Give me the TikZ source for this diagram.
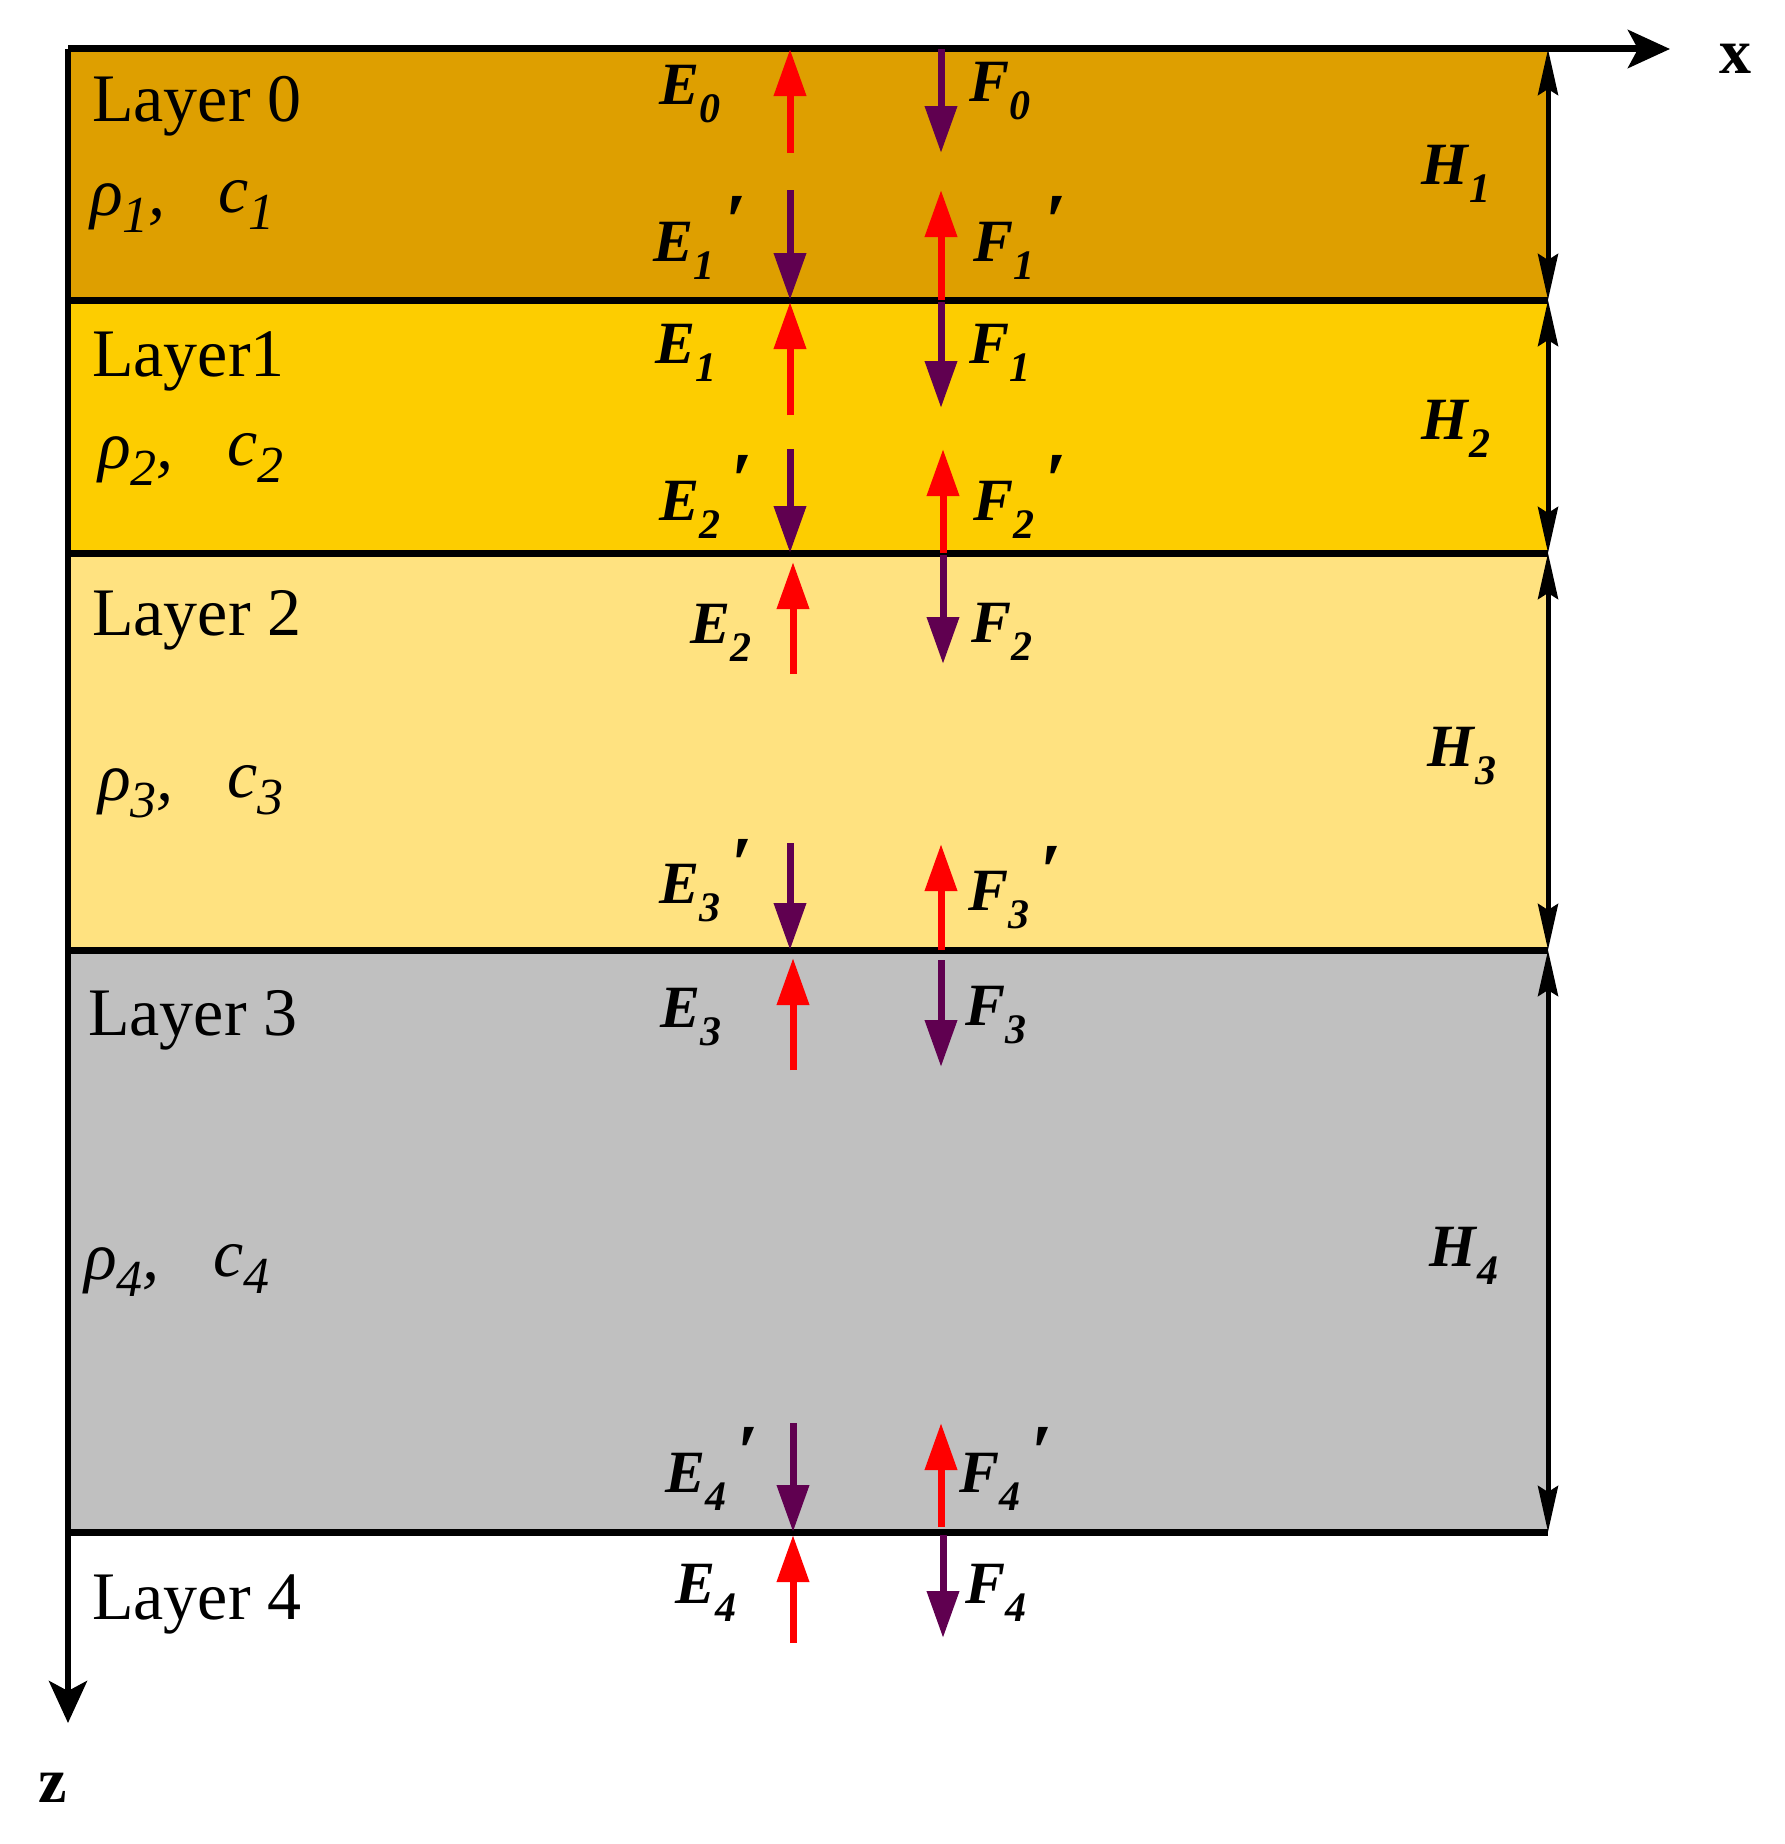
\documentclass[tikz,border=0pt]{standalone}
\usepackage{fontspec}
\setmainfont{Liberation Serif}
\usetikzlibrary{arrows.meta}
\definecolor{layzero}{RGB}{222,159,0}
\definecolor{layone}{RGB}{253,205,0}
\definecolor{laytwo}{RGB}{255,226,128}
\definecolor{laythree}{RGB}{192,192,192}
\definecolor{wred}{RGB}{255,0,0}
\definecolor{wpur}{RGB}{96,0,80}
\newcommand{\wvar}[2]{\textbf{\textit{#1}}\raisebox{-0.3em}{\fontsize{42}{42}\selectfont\textbf{\textit{#2}}}}
\newcommand{\wprm}{\hspace{0.18em}\raisebox{0.22em}{\fontsize{78}{78}\selectfont\textbf{\textit{′}}}}
\newcommand{\wgr}[2]{\textit{#1}\raisebox{-0.25em}{\fontsize{52}{52}\selectfont\textit{#2}}}
\begin{document}
\begin{tikzpicture}[x=1pt,y=-1pt,
  laylab/.style={anchor=base west,inner sep=0pt,font=\fontsize{68}{72}\selectfont},
  grlab/.style={anchor=base west,inner sep=0pt,font=\fontsize{68}{72}\selectfont},
  wlab/.style={inner sep=0pt,font=\fontsize{60}{64}\selectfont},
  redarr/.style={wred,line width=7pt,-{Triangle[length=47pt,width=31pt]}},
  purarr/.style={wpur,line width=7pt,-{Triangle[length=47pt,width=31pt]}},
  harr/.style={black,line width=5pt,{Stealth[length=46pt,width=20pt,inset=6pt]}-{Stealth[length=46pt,width=20pt,inset=6pt]}},
  axarr/.style={black,line width=6pt,-{Stealth[length=42pt,width=38pt,inset=10pt]}},
  bline/.style={black,line width=7pt}]
\useasboundingbox (0,0) rectangle (1785,1844);
% layers
\fill[layzero] (68,49) rectangle (1548,300);
\fill[layone] (68,300) rectangle (1548,553);
\fill[laytwo] (68,553) rectangle (1548,950);
\fill[laythree] (68,950) rectangle (1548,1532);
% coordinates
\coordinate (O) at (68,49);
\coordinate (Xend) at (1670,49);
\coordinate (Zend) at (68,1723);
\coordinate (R0) at (1548,49);
\coordinate (R1) at (1548,300);
\coordinate (R2) at (1548,553);
\coordinate (R3) at (1548,950);
\coordinate (R4) at (1548,1532);
\coordinate (L1) at (68,300);
\coordinate (L2) at (68,553);
\coordinate (L3) at (68,950);
\coordinate (L4) at (68,1532);
% boundaries
\draw[bline] (L1) -- (R1);
\draw[bline] (L2) -- (R2);
\draw[bline] (L3) -- (R3);
\draw[bline] (L4) -- (R4);
% axes
\draw[axarr,line width=7pt] (O) -- (Xend);
\draw[axarr] (O) -- (Zend);
\node[inner sep=0pt,font=\fontsize{64}{64}\selectfont\bfseries] (xl) at (1735,59) {x};
\node[inner sep=0pt,font=\fontsize{64}{64}\selectfont\bfseries] (zl) at (53,1788) {z};
% thickness arrows
\draw[harr] (R0) -- (R1);
\draw[harr] (R1) -- (R2);
\draw[harr] (R2) -- (R3);
\draw[harr] (R3) -- (R4);
\node[wlab] (h1) at (1456,174) {\wvar{H}{1}};
\node[wlab] (h2) at (1456,429) {\wvar{H}{2}};
\node[wlab] (h3) at (1462,756) {\wvar{H}{3}};
\node[wlab] (h4) at (1464,1256) {\wvar{H}{4}};
% layer labels
\node[laylab] (t0) at (92,121) {Layer 0};
\node[laylab] (t1) at (92,376) {Layer1};
\node[laylab] (t2) at (92,635) {Layer 2};
\node[laylab] (t3) at (88,1035) {Layer 3};
\node[laylab] (t4) at (92,1619) {Layer 4};
\node[grlab] (p1) at (90,215) {\wgr{ρ}{1}\textit{,}};
\node[grlab] (c1) at (218,212) {\wgr{c}{1}};
\node[grlab] (p2) at (98,468) {\wgr{ρ}{2}\textit{,}};
\node[grlab] (c2) at (227,465) {\wgr{c}{2}};
\node[grlab] (p3) at (98,800) {\wgr{ρ}{3}\textit{,}};
\node[grlab] (c3) at (227,797) {\wgr{c}{3}};
\node[grlab] (p4) at (84,1279) {\wgr{ρ}{4}\textit{,}};
\node[grlab] (c4) at (213,1276) {\wgr{c}{4}};
% wave arrow coordinates
\coordinate (e0s) at (790,153); \coordinate (e0t) at (790,49);
\coordinate (f0s) at (941,49); \coordinate (f0t) at (941,153);
\coordinate (e1ps) at (790,190); \coordinate (e1pt) at (790,300);
\coordinate (f1ps) at (941,300); \coordinate (f1pt) at (941,190);
\coordinate (e1s) at (790,415); \coordinate (e1t) at (790,302);
\coordinate (f1s) at (941,302); \coordinate (f1t) at (941,408);
\coordinate (e2ps) at (790,449); \coordinate (e2pt) at (790,553);
\coordinate (f2ps) at (943,553); \coordinate (f2pt) at (943,449);
\coordinate (e2s) at (793,674); \coordinate (e2t) at (793,562);
\coordinate (f2s) at (943,555); \coordinate (f2t) at (943,664);
\coordinate (e3ps) at (790,843); \coordinate (e3pt) at (790,950);
\coordinate (f3ps) at (941,950); \coordinate (f3pt) at (941,844);
\coordinate (e3s) at (793,1070); \coordinate (e3t) at (793,958);
\coordinate (f3s) at (941,960); \coordinate (f3t) at (941,1067);
\coordinate (e4ps) at (793,1423); \coordinate (e4pt) at (793,1532);
\coordinate (f4ps) at (941,1527); \coordinate (f4pt) at (941,1423);
\coordinate (e4s) at (793,1643); \coordinate (e4t) at (793,1535);
\coordinate (f4s) at (943,1535); \coordinate (f4t) at (943,1638);
\draw[redarr] (e0s) -- (e0t);
\draw[purarr] (f0s) -- (f0t);
\draw[purarr] (e1ps) -- (e1pt);
\draw[redarr] (f1ps) -- (f1pt);
\draw[redarr] (e1s) -- (e1t);
\draw[purarr] (f1s) -- (f1t);
\draw[purarr] (e2ps) -- (e2pt);
\draw[redarr] (f2ps) -- (f2pt);
\draw[redarr] (e2s) -- (e2t);
\draw[purarr] (f2s) -- (f2t);
\draw[purarr] (e3ps) -- (e3pt);
\draw[redarr] (f3ps) -- (f3pt);
\draw[redarr] (e3s) -- (e3t);
\draw[purarr] (f3s) -- (f3t);
\draw[purarr] (e4ps) -- (e4pt);
\draw[redarr] (f4ps) -- (f4pt);
\draw[redarr] (e4s) -- (e4t);
\draw[purarr] (f4s) -- (f4t);
% wave labels
\node[wlab] (le0) at (690,94) {\wvar{E}{0}};
\node[wlab] (le1p) at (700,238) {\wvar{E}{1}\wprm};
\node[wlab] (le1) at (686,353) {\wvar{E}{1}};
\node[wlab] (le2p) at (706,497) {\wvar{E}{2}\wprm};
\node[wlab] (le2) at (721,633) {\wvar{E}{2}};
\node[wlab] (le3p) at (706,881) {\wvar{E}{3}\wprm};
\node[wlab] (le3) at (691,1017) {\wvar{E}{3}};
\node[wlab] (le4p) at (712,1469) {\wvar{E}{4}\wprm};
\node[wlab] (le4) at (706,1593) {\wvar{E}{4}};
\node[wlab] (lf0) at (1000,91) {\wvar{F}{0}};
\node[wlab] (lf1p) at (1020,238) {\wvar{F}{1}\wprm};
\node[wlab] (lf1) at (1000,353) {\wvar{F}{1}};
\node[wlab] (lf2p) at (1020,497) {\wvar{F}{2}\wprm};
\node[wlab] (lf2) at (1002,632) {\wvar{F}{2}};
\node[wlab] (lf3p) at (1015,888) {\wvar{F}{3}\wprm};
\node[wlab] (lf3) at (996,1015) {\wvar{F}{3}};
\node[wlab] (lf4p) at (1006,1469) {\wvar{F}{4}\wprm};
\node[wlab] (lf4) at (996,1593) {\wvar{F}{4}};
\end{tikzpicture}
\end{document}
